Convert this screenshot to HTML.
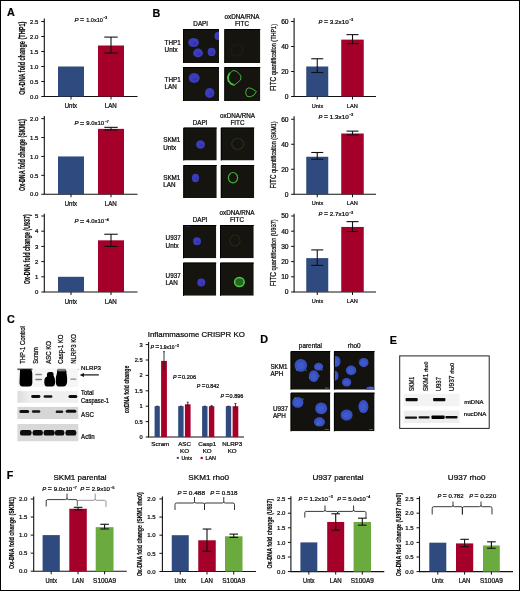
<!DOCTYPE html>
<html><head><meta charset="utf-8"><style>
html,body{margin:0;padding:0;background:#fff;}
svg{display:block;}
svg.root{will-change:transform;}
text{font-family:"Liberation Sans", sans-serif;stroke:#0c0c0c;stroke-width:0.24px;}
text[font-weight="bold"]{stroke-width:0.2px;}
</style></head><body>
<svg class="root" width="520" height="591" viewBox="0 0 520 591">
<defs>
<filter id="blur1" x="-50%" y="-50%" width="200%" height="200%"><feGaussianBlur stdDeviation="0.6"/></filter>
<filter id="blur05" x="-50%" y="-50%" width="200%" height="200%"><feGaussianBlur stdDeviation="0.35"/></filter>
<filter id="blur2" x="-50%" y="-50%" width="200%" height="200%"><feGaussianBlur stdDeviation="1.2"/></filter>
</defs>
<rect x="0" y="0" width="520" height="591" fill="#fff"/>
<text x="7" y="15.8" font-size="10.8" text-anchor="start" fill="#000" font-weight="bold">A</text>
<line x1="44.3" y1="18.4" x2="44.3" y2="96.5" stroke="#111" stroke-width="1.1"/>
<line x1="43.8" y1="96.5" x2="137.5" y2="96.5" stroke="#111" stroke-width="1.1"/>
<line x1="41.3" y1="96.5" x2="44.3" y2="96.5" stroke="#111" stroke-width="1"/>
<text x="38.4" y="98.66" font-size="6.0" text-anchor="end" fill="#0c0c0c">0.0</text>
<line x1="41.3" y1="81.5" x2="44.3" y2="81.5" stroke="#111" stroke-width="1"/>
<text x="38.4" y="83.66" font-size="6.0" text-anchor="end" fill="#0c0c0c">0.5</text>
<line x1="41.3" y1="66.5" x2="44.3" y2="66.5" stroke="#111" stroke-width="1"/>
<text x="38.4" y="68.66" font-size="6.0" text-anchor="end" fill="#0c0c0c">1.0</text>
<line x1="41.3" y1="51.5" x2="44.3" y2="51.5" stroke="#111" stroke-width="1"/>
<text x="38.4" y="53.66" font-size="6.0" text-anchor="end" fill="#0c0c0c">1.5</text>
<line x1="41.3" y1="36.5" x2="44.3" y2="36.5" stroke="#111" stroke-width="1"/>
<text x="38.4" y="38.66" font-size="6.0" text-anchor="end" fill="#0c0c0c">2.0</text>
<line x1="41.3" y1="21.5" x2="44.3" y2="21.5" stroke="#111" stroke-width="1"/>
<text x="38.4" y="23.66" font-size="6.0" text-anchor="end" fill="#0c0c0c">2.5</text>
<rect x="58" y="66.5" width="26" height="30.0" fill="#2E4A7E"/>
<line x1="71.0" y1="96.5" x2="71.0" y2="99.5" stroke="#111" stroke-width="1"/>
<rect x="98" y="45.5" width="26" height="51.0" fill="#A5002A"/>
<line x1="111.0" y1="37.1" x2="111.0" y2="53.0" stroke="#111" stroke-width="1.1"/>
<line x1="104.3" y1="37.1" x2="117.7" y2="37.1" stroke="#111" stroke-width="1.1"/>
<line x1="104.3" y1="53.0" x2="117.7" y2="53.0" stroke="#111" stroke-width="1.1"/>
<line x1="111.0" y1="96.5" x2="111.0" y2="99.5" stroke="#111" stroke-width="1"/>
<text x="70.95" y="107.8" font-size="6.4" text-anchor="middle" fill="#0c0c0c" textLength="12.3" lengthAdjust="spacingAndGlyphs">Untx</text>
<text x="110.8" y="107.8" font-size="6.4" text-anchor="middle" fill="#0c0c0c" textLength="12" lengthAdjust="spacingAndGlyphs">LAN</text>
<text x="24.8" y="58.2" font-size="8.3" text-anchor="middle" fill="#0c0c0c" font-weight="bold" textLength="73" lengthAdjust="spacingAndGlyphs" transform="rotate(-90 24.8 58.2)">Ox-DNA fold change (THP1)</text>
<text x="74.4" y="21.7" font-size="6.1" font-style="italic" fill="#0c0c0c">P</text>
<text x="80.09" y="21.80" font-size="7.32" fill="#0c0c0c" textLength="4.17" lengthAdjust="spacingAndGlyphs">=</text>
<text x="86.19" y="21.7" font-size="6.1" fill="#0c0c0c" textLength="16.61" lengthAdjust="spacingAndGlyphs">1.0x10</text>
<text x="103.3" y="19.4" font-size="3.5" fill="#0c0c0c">&#8722;3</text>
<line x1="44.3" y1="116" x2="44.3" y2="194.25" stroke="#111" stroke-width="1.1"/>
<line x1="43.8" y1="194.25" x2="137.5" y2="194.25" stroke="#111" stroke-width="1.1"/>
<line x1="41.3" y1="194.25" x2="44.3" y2="194.25" stroke="#111" stroke-width="1"/>
<text x="38.4" y="196.41" font-size="6.0" text-anchor="end" fill="#0c0c0c">0.0</text>
<line x1="41.3" y1="175.35" x2="44.3" y2="175.35" stroke="#111" stroke-width="1"/>
<text x="38.4" y="177.51" font-size="6.0" text-anchor="end" fill="#0c0c0c">0.5</text>
<line x1="41.3" y1="156.45" x2="44.3" y2="156.45" stroke="#111" stroke-width="1"/>
<text x="38.4" y="158.60999999999999" font-size="6.0" text-anchor="end" fill="#0c0c0c">1.0</text>
<line x1="41.3" y1="137.55" x2="44.3" y2="137.55" stroke="#111" stroke-width="1"/>
<text x="38.4" y="139.71" font-size="6.0" text-anchor="end" fill="#0c0c0c">1.5</text>
<line x1="41.3" y1="118.65" x2="44.3" y2="118.65" stroke="#111" stroke-width="1"/>
<text x="38.4" y="120.81" font-size="6.0" text-anchor="end" fill="#0c0c0c">2.0</text>
<rect x="58" y="156.45" width="26" height="37.80000000000001" fill="#2E4A7E"/>
<line x1="71.0" y1="194.25" x2="71.0" y2="197.25" stroke="#111" stroke-width="1"/>
<rect x="98" y="128.856" width="26" height="65.394" fill="#A5002A"/>
<line x1="111.0" y1="127.34400000000001" x2="111.0" y2="129.99" stroke="#111" stroke-width="1.1"/>
<line x1="104.3" y1="127.34400000000001" x2="117.7" y2="127.34400000000001" stroke="#111" stroke-width="1.1"/>
<line x1="104.3" y1="129.99" x2="117.7" y2="129.99" stroke="#111" stroke-width="1.1"/>
<line x1="111.0" y1="194.25" x2="111.0" y2="197.25" stroke="#111" stroke-width="1"/>
<text x="70.95" y="205.6" font-size="6.4" text-anchor="middle" fill="#0c0c0c" textLength="12.3" lengthAdjust="spacingAndGlyphs">Untx</text>
<text x="110.8" y="205.6" font-size="6.4" text-anchor="middle" fill="#0c0c0c" textLength="12" lengthAdjust="spacingAndGlyphs">LAN</text>
<text x="24.8" y="155" font-size="8.3" text-anchor="middle" fill="#0c0c0c" font-weight="bold" textLength="72" lengthAdjust="spacingAndGlyphs" transform="rotate(-90 24.8 155)">Ox-DNA fold change (SKM1)</text>
<text x="74.4" y="125.4" font-size="6.1" font-style="italic" fill="#0c0c0c">P</text>
<text x="80.09" y="125.50" font-size="7.32" fill="#0c0c0c" textLength="4.17" lengthAdjust="spacingAndGlyphs">=</text>
<text x="86.19" y="125.4" font-size="6.1" fill="#0c0c0c" textLength="18.01" lengthAdjust="spacingAndGlyphs">9.0x10</text>
<text x="104.7" y="123.10000000000001" font-size="3.5" fill="#0c0c0c">&#8722;7</text>
<line x1="44.3" y1="213.75" x2="44.3" y2="292" stroke="#111" stroke-width="1.1"/>
<line x1="43.8" y1="292" x2="137.5" y2="292" stroke="#111" stroke-width="1.1"/>
<line x1="41.3" y1="292.0" x2="44.3" y2="292.0" stroke="#111" stroke-width="1"/>
<text x="38.4" y="294.16" font-size="6.0" text-anchor="end" fill="#0c0c0c">0</text>
<line x1="41.3" y1="276.8" x2="44.3" y2="276.8" stroke="#111" stroke-width="1"/>
<text x="38.4" y="278.96000000000004" font-size="6.0" text-anchor="end" fill="#0c0c0c">1</text>
<line x1="41.3" y1="261.6" x2="44.3" y2="261.6" stroke="#111" stroke-width="1"/>
<text x="38.4" y="263.76000000000005" font-size="6.0" text-anchor="end" fill="#0c0c0c">2</text>
<line x1="41.3" y1="246.4" x2="44.3" y2="246.4" stroke="#111" stroke-width="1"/>
<text x="38.4" y="248.56" font-size="6.0" text-anchor="end" fill="#0c0c0c">3</text>
<line x1="41.3" y1="231.2" x2="44.3" y2="231.2" stroke="#111" stroke-width="1"/>
<text x="38.4" y="233.35999999999999" font-size="6.0" text-anchor="end" fill="#0c0c0c">4</text>
<line x1="41.3" y1="216.0" x2="44.3" y2="216.0" stroke="#111" stroke-width="1"/>
<text x="38.4" y="218.16" font-size="6.0" text-anchor="end" fill="#0c0c0c">5</text>
<rect x="58" y="276.8" width="26" height="15.199999999999989" fill="#2E4A7E"/>
<line x1="71.0" y1="292" x2="71.0" y2="295" stroke="#111" stroke-width="1"/>
<rect x="98" y="240.32" width="26" height="51.68000000000001" fill="#A5002A"/>
<line x1="111.0" y1="234.24" x2="111.0" y2="246.4" stroke="#111" stroke-width="1.1"/>
<line x1="104.3" y1="234.24" x2="117.7" y2="234.24" stroke="#111" stroke-width="1.1"/>
<line x1="104.3" y1="246.4" x2="117.7" y2="246.4" stroke="#111" stroke-width="1.1"/>
<line x1="111.0" y1="292" x2="111.0" y2="295" stroke="#111" stroke-width="1"/>
<text x="70.95" y="303.6" font-size="6.4" text-anchor="middle" fill="#0c0c0c" textLength="12.3" lengthAdjust="spacingAndGlyphs">Untx</text>
<text x="110.8" y="303.6" font-size="6.4" text-anchor="middle" fill="#0c0c0c" textLength="12" lengthAdjust="spacingAndGlyphs">LAN</text>
<text x="30.2" y="249.2" font-size="8.3" text-anchor="middle" fill="#0c0c0c" font-weight="bold" textLength="70" lengthAdjust="spacingAndGlyphs" transform="rotate(-90 30.2 249.2)">Ox-DNA fold change (U937)</text>
<text x="74.4" y="223.4" font-size="6.1" font-style="italic" fill="#0c0c0c">P</text>
<text x="80.09" y="223.50" font-size="7.32" fill="#0c0c0c" textLength="4.17" lengthAdjust="spacingAndGlyphs">=</text>
<text x="86.19" y="223.4" font-size="6.1" fill="#0c0c0c" textLength="18.01" lengthAdjust="spacingAndGlyphs">4.0x10</text>
<text x="104.7" y="221.1" font-size="3.5" fill="#0c0c0c">&#8722;4</text>
<text x="152.5" y="16.5" font-size="10.8" text-anchor="start" fill="#000" font-weight="bold">B</text>
<text x="200.7" y="26.2" font-size="6.3" text-anchor="middle" fill="#0c0c0c">DAPI</text>
<text x="242" y="18.8" font-size="6.3" text-anchor="middle" fill="#0c0c0c">oxDNA/RNA</text>
<text x="242" y="26.2" font-size="6.3" text-anchor="middle" fill="#0c0c0c">FITC</text>
<text x="164.6" y="45" font-size="6.3" text-anchor="start" fill="#0c0c0c">THP1</text>
<text x="164.6" y="51.8" font-size="6.3" text-anchor="start" fill="#0c0c0c">Untx</text>
<text x="164.6" y="82.2" font-size="6.3" text-anchor="start" fill="#0c0c0c">THP1</text>
<text x="164.6" y="89.3" font-size="6.3" text-anchor="start" fill="#0c0c0c">LAN</text>
<svg x="183" y="29" width="36" height="34" overflow="hidden">
<rect width="36" height="34" fill="#15140f"/>
<ellipse cx="10.599999999999994" cy="13.5" rx="5.4" ry="4.6" fill="#3a3abc" filter="url(#blur05)"/>
<ellipse cx="11.679999999999994" cy="14.65" rx="1.89" ry="1.38" fill="#2a2a80" opacity="0.4" filter="url(#blur1)"/>
<ellipse cx="15" cy="24" rx="5" ry="4.4" fill="#3a3abc" filter="url(#blur05)"/>
<ellipse cx="16.0" cy="25.1" rx="1.75" ry="1.32" fill="#2a2a80" opacity="0.4" filter="url(#blur1)"/>
<ellipse cx="28.599999999999994" cy="22.9" rx="4" ry="4.2" fill="#3a3abc" filter="url(#blur05)"/>
<ellipse cx="29.399999999999995" cy="23.95" rx="1.4" ry="1.26" fill="#2a2a80" opacity="0.4" filter="url(#blur1)"/>
<ellipse cx="35.30000000000001" cy="6.899999999999999" rx="3.8" ry="4.1" fill="#3a3abc" filter="url(#blur05)"/>
<ellipse cx="36.06000000000001" cy="7.924999999999999" rx="1.3299999999999998" ry="1.2299999999999998" fill="#2a2a80" opacity="0.4" filter="url(#blur1)"/>
</svg>
<path d="M183.5,63 L183.5,29.5 L219,29.5" fill="none" stroke="#000" stroke-width="1"/>
<svg x="224.3" y="29" width="36" height="34" overflow="hidden">
<rect width="36" height="34" fill="#15140f"/>
<ellipse cx="12.699999999999989" cy="21" rx="6" ry="6" fill="none" stroke="#3fb43a" stroke-width="1.2" opacity="0.07" filter="url(#blur05)"/>
</svg>
<path d="M224.8,63 L224.8,29.5 L260.3,29.5" fill="none" stroke="#000" stroke-width="1"/>
<svg x="183" y="67" width="36" height="34" overflow="hidden">
<rect width="36" height="34" fill="#15140f"/>
<ellipse cx="11.199999999999989" cy="11" rx="5.5" ry="5" fill="#3a3abc" filter="url(#blur05)"/>
<ellipse cx="12.299999999999988" cy="12.25" rx="1.9249999999999998" ry="1.5" fill="#2a2a80" opacity="0.4" filter="url(#blur1)"/>
<ellipse cx="26.69999999999999" cy="26" rx="4.8" ry="5" fill="#3a3abc" filter="url(#blur05)"/>
<ellipse cx="27.65999999999999" cy="27.25" rx="1.68" ry="1.5" fill="#2a2a80" opacity="0.4" filter="url(#blur1)"/>
</svg>
<path d="M183.5,101 L183.5,67.5 L219,67.5" fill="none" stroke="#000" stroke-width="1"/>
<svg x="224.3" y="67" width="36" height="34" overflow="hidden">
<rect width="36" height="34" fill="#15140f"/>
<path d="M4.70,7.00 L8.70,3.50 L11.70,4.00 L14.70,6.50 L16.70,9.00 L16.20,13.00 L12.70,16.00 L10.20,18.00 L6.70,17.00 L4.20,14.00 L3.50,10.00 Z" fill="none" stroke="#42b838" stroke-width="0.95" stroke-linejoin="round" filter="url(#blur05)"/>
<path d="M22.20,22.00 L24.70,20.80 L27.70,21.80 L32.10,24.50 L29.70,28.00 L26.20,29.80 L22.70,29.30 L21.30,26.00 Z" fill="none" stroke="#46bc3a" stroke-width="0.95" stroke-linejoin="round" filter="url(#blur05)"/>
<path d="M5.20,6.50 L3.70,10.00 L4.30,14.00 L6.70,16.80 L9.20,17.80" fill="none" stroke="#4cc83e" stroke-width="1.7" stroke-linejoin="round" stroke-linecap="round" filter="url(#blur05)"/>
</svg>
<path d="M224.8,101 L224.8,67.5 L260.3,67.5" fill="none" stroke="#000" stroke-width="1"/>
<text x="200" y="124.5" font-size="6.3" text-anchor="middle" fill="#0c0c0c">DAPI</text>
<text x="237.5" y="117.5" font-size="6.3" text-anchor="middle" fill="#0c0c0c">oxDNA/RNA</text>
<text x="237.5" y="124.5" font-size="6.3" text-anchor="middle" fill="#0c0c0c">FITC</text>
<text x="163.2" y="142.3" font-size="6.3" text-anchor="start" fill="#0c0c0c">SKM1</text>
<text x="163.2" y="149.8" font-size="6.3" text-anchor="start" fill="#0c0c0c">Untx</text>
<text x="163.2" y="180" font-size="6.3" text-anchor="start" fill="#0c0c0c">SKM1</text>
<text x="163.2" y="187.4" font-size="6.3" text-anchor="start" fill="#0c0c0c">LAN</text>
<svg x="183.25" y="127.5" width="33.5" height="33" overflow="hidden">
<rect width="33.5" height="33" fill="#15140f"/>
<ellipse cx="17.25" cy="17.0" rx="4.5" ry="4.2" fill="#3a3abc" filter="url(#blur05)"/>
<ellipse cx="18.15" cy="18.05" rx="1.575" ry="1.26" fill="#2a2a80" opacity="0.4" filter="url(#blur1)"/>
</svg>
<path d="M183.75,160.5 L183.75,128.0 L216.75,128.0" fill="none" stroke="#000" stroke-width="1"/>
<svg x="220.75" y="127.5" width="33.5" height="33" overflow="hidden">
<rect width="33.5" height="33" fill="#15140f"/>
<ellipse cx="16.94999999999999" cy="16.5" rx="6" ry="5.5" fill="none" stroke="#3fb43a" stroke-width="1.2" opacity="0.22" filter="url(#blur05)"/>
</svg>
<path d="M221.25,160.5 L221.25,128.0 L254.25,128.0" fill="none" stroke="#000" stroke-width="1"/>
<svg x="183.25" y="165" width="33.5" height="33" overflow="hidden">
<rect width="33.5" height="33" fill="#15140f"/>
<ellipse cx="12.25" cy="13" rx="3.6" ry="4.2" fill="#3a3abc" filter="url(#blur05)"/>
<ellipse cx="12.97" cy="14.05" rx="1.26" ry="1.26" fill="#2a2a80" opacity="0.4" filter="url(#blur1)"/>
</svg>
<path d="M183.75,198 L183.75,165.5 L216.75,165.5" fill="none" stroke="#000" stroke-width="1"/>
<svg x="220.75" y="165" width="33.5" height="33" overflow="hidden">
<rect width="33.5" height="33" fill="#15140f"/>
<ellipse cx="12.25" cy="12.699999999999989" rx="4.6" ry="5.2" fill="none" stroke="#3fb43a" stroke-width="1.2" opacity="1" filter="url(#blur05)"/>
</svg>
<path d="M221.25,198 L221.25,165.5 L254.25,165.5" fill="none" stroke="#000" stroke-width="1"/>
<text x="200" y="222.4" font-size="6.3" text-anchor="middle" fill="#0c0c0c">DAPI</text>
<text x="237" y="215.1" font-size="6.3" text-anchor="middle" fill="#0c0c0c">oxDNA/RNA</text>
<text x="237" y="222.4" font-size="6.3" text-anchor="middle" fill="#0c0c0c">FITC</text>
<text x="165.6" y="240.4" font-size="6.3" text-anchor="start" fill="#0c0c0c">U937</text>
<text x="165.6" y="247.5" font-size="6.3" text-anchor="start" fill="#0c0c0c">Untx</text>
<text x="165.6" y="277.5" font-size="6.3" text-anchor="start" fill="#0c0c0c">U937</text>
<text x="165.6" y="284.8" font-size="6.3" text-anchor="start" fill="#0c0c0c">LAN</text>
<svg x="183" y="225" width="33.25" height="33.25" overflow="hidden">
<rect width="33.25" height="33.25" fill="#15140f"/>
<ellipse cx="14" cy="16.25" rx="4" ry="4" fill="#3a3abc" filter="url(#blur05)"/>
<ellipse cx="14.8" cy="17.25" rx="1.4" ry="1.2" fill="#2a2a80" opacity="0.4" filter="url(#blur1)"/>
<ellipse cx="5" cy="-0.5" rx="3.5" ry="2" fill="#3a3abc" filter="url(#blur05)"/>
<ellipse cx="5.7" cy="0.0" rx="1.2249999999999999" ry="0.6" fill="#2a2a80" opacity="0.4" filter="url(#blur1)"/>
</svg>
<path d="M183.5,258.25 L183.5,225.5 L216.25,225.5" fill="none" stroke="#000" stroke-width="1"/>
<svg x="220" y="225" width="33.75" height="33.25" overflow="hidden">
<rect width="33.75" height="33.25" fill="#15140f"/>
<ellipse cx="15" cy="15.5" rx="5" ry="5.5" fill="none" stroke="#3fb43a" stroke-width="1.2" opacity="0.15" filter="url(#blur05)"/>
</svg>
<path d="M220.5,258.25 L220.5,225.5 L253.75,225.5" fill="none" stroke="#000" stroke-width="1"/>
<svg x="183" y="262.5" width="33.25" height="33.25" overflow="hidden">
<rect width="33.25" height="33.25" fill="#15140f"/>
<ellipse cx="18.25" cy="20.0" rx="4" ry="4" fill="#3a3abc" filter="url(#blur05)"/>
<ellipse cx="19.05" cy="21.0" rx="1.4" ry="1.2" fill="#2a2a80" opacity="0.4" filter="url(#blur1)"/>
</svg>
<path d="M183.5,295.75 L183.5,263.0 L216.25,263.0" fill="none" stroke="#000" stroke-width="1"/>
<svg x="220" y="262.5" width="33.75" height="33.25" overflow="hidden">
<rect width="33.75" height="33.25" fill="#15140f"/>
<ellipse cx="19.400000000000006" cy="19.399999999999977" rx="4.8" ry="4.5" fill="#2c6428" stroke="#4ccc3e" stroke-width="1.5" filter="url(#blur05)"/>
</svg>
<path d="M220.5,295.75 L220.5,263.0 L253.75,263.0" fill="none" stroke="#000" stroke-width="1"/>
<line x1="294.1" y1="18" x2="294.1" y2="96.5" stroke="#111" stroke-width="1.1"/>
<line x1="293.6" y1="96.5" x2="376" y2="96.5" stroke="#111" stroke-width="1.1"/>
<line x1="291.1" y1="96.5" x2="294.1" y2="96.5" stroke="#111" stroke-width="1"/>
<text x="288.6" y="98.912" font-size="6.7" text-anchor="end" fill="#0c0c0c">0</text>
<line x1="291.1" y1="71.5" x2="294.1" y2="71.5" stroke="#111" stroke-width="1"/>
<text x="288.6" y="73.912" font-size="6.7" text-anchor="end" fill="#0c0c0c">20</text>
<line x1="291.1" y1="46.5" x2="294.1" y2="46.5" stroke="#111" stroke-width="1"/>
<text x="288.6" y="48.912" font-size="6.7" text-anchor="end" fill="#0c0c0c">40</text>
<line x1="291.1" y1="21.5" x2="294.1" y2="21.5" stroke="#111" stroke-width="1"/>
<text x="288.6" y="23.912" font-size="6.7" text-anchor="end" fill="#0c0c0c">60</text>
<rect x="306.25" y="66.5" width="22.0" height="30.0" fill="#2E4A7E"/>
<line x1="317.25" y1="58.75" x2="317.25" y2="72.5" stroke="#111" stroke-width="1.1"/>
<line x1="311.25" y1="58.75" x2="323.25" y2="58.75" stroke="#111" stroke-width="1.1"/>
<line x1="311.25" y1="72.5" x2="323.25" y2="72.5" stroke="#111" stroke-width="1.1"/>
<line x1="317.25" y1="96.5" x2="317.25" y2="99.5" stroke="#111" stroke-width="1"/>
<rect x="341.25" y="39.625" width="22.5" height="56.875" fill="#A5002A"/>
<line x1="352.5" y1="34.625" x2="352.5" y2="43.625" stroke="#111" stroke-width="1.1"/>
<line x1="346.5" y1="34.625" x2="358.5" y2="34.625" stroke="#111" stroke-width="1.1"/>
<line x1="346.5" y1="43.625" x2="358.5" y2="43.625" stroke="#111" stroke-width="1.1"/>
<line x1="352.5" y1="96.5" x2="352.5" y2="99.5" stroke="#111" stroke-width="1"/>
<text x="317.45" y="107.8" font-size="6.1" text-anchor="middle" fill="#0c0c0c" textLength="11.5" lengthAdjust="spacingAndGlyphs">Untx</text>
<text x="352.3" y="107.8" font-size="6.1" text-anchor="middle" fill="#0c0c0c" textLength="11" lengthAdjust="spacingAndGlyphs">LAN</text>
<text x="276.2" y="57.5" font-size="7.4" text-anchor="middle" fill="#0c0c0c" textLength="67" lengthAdjust="spacingAndGlyphs" transform="rotate(-90 276.2 57.5)"><tspan font-size="8.6">FITC</tspan> quantification (THP1)</text>
<text x="318.6" y="23.5" font-size="5.8" font-style="italic" fill="#0c0c0c">P</text>
<text x="324.01" y="23.60" font-size="6.96" fill="#0c0c0c" textLength="3.96" lengthAdjust="spacingAndGlyphs">=</text>
<text x="329.81" y="23.5" font-size="5.8" fill="#0c0c0c" textLength="18.99" lengthAdjust="spacingAndGlyphs">3.2x10</text>
<text x="349.3" y="21.2" font-size="3.5" fill="#0c0c0c">&#8722;3</text>
<line x1="294.1" y1="116.25" x2="294.1" y2="194.25" stroke="#111" stroke-width="1.1"/>
<line x1="293.6" y1="194.25" x2="376" y2="194.25" stroke="#111" stroke-width="1.1"/>
<line x1="291.1" y1="194.25" x2="294.1" y2="194.25" stroke="#111" stroke-width="1"/>
<text x="288.6" y="196.662" font-size="6.7" text-anchor="end" fill="#0c0c0c">0</text>
<line x1="291.1" y1="169.25" x2="294.1" y2="169.25" stroke="#111" stroke-width="1"/>
<text x="288.6" y="171.662" font-size="6.7" text-anchor="end" fill="#0c0c0c">20</text>
<line x1="291.1" y1="144.25" x2="294.1" y2="144.25" stroke="#111" stroke-width="1"/>
<text x="288.6" y="146.662" font-size="6.7" text-anchor="end" fill="#0c0c0c">40</text>
<line x1="291.1" y1="119.25" x2="294.1" y2="119.25" stroke="#111" stroke-width="1"/>
<text x="288.6" y="121.662" font-size="6.7" text-anchor="end" fill="#0c0c0c">60</text>
<rect x="306.25" y="156.75" width="22.0" height="37.5" fill="#2E4A7E"/>
<line x1="317.25" y1="152.5" x2="317.25" y2="159.25" stroke="#111" stroke-width="1.1"/>
<line x1="311.25" y1="152.5" x2="323.25" y2="152.5" stroke="#111" stroke-width="1.1"/>
<line x1="311.25" y1="159.25" x2="323.25" y2="159.25" stroke="#111" stroke-width="1.1"/>
<line x1="317.25" y1="194.25" x2="317.25" y2="197.25" stroke="#111" stroke-width="1"/>
<rect x="341.25" y="133.5" width="22.5" height="60.75" fill="#A5002A"/>
<line x1="352.5" y1="131.125" x2="352.5" y2="134.875" stroke="#111" stroke-width="1.1"/>
<line x1="346.5" y1="131.125" x2="358.5" y2="131.125" stroke="#111" stroke-width="1.1"/>
<line x1="346.5" y1="134.875" x2="358.5" y2="134.875" stroke="#111" stroke-width="1.1"/>
<line x1="352.5" y1="194.25" x2="352.5" y2="197.25" stroke="#111" stroke-width="1"/>
<text x="317.45" y="205.4" font-size="6.1" text-anchor="middle" fill="#0c0c0c" textLength="11.5" lengthAdjust="spacingAndGlyphs">Untx</text>
<text x="352.3" y="205.4" font-size="6.1" text-anchor="middle" fill="#0c0c0c" textLength="11" lengthAdjust="spacingAndGlyphs">LAN</text>
<text x="276.2" y="155" font-size="7.4" text-anchor="middle" fill="#0c0c0c" textLength="67" lengthAdjust="spacingAndGlyphs" transform="rotate(-90 276.2 155)"><tspan font-size="8.6">FITC</tspan> quantification (SKM1)</text>
<text x="318.6" y="118.5" font-size="5.8" font-style="italic" fill="#0c0c0c">P</text>
<text x="324.01" y="118.60" font-size="6.96" fill="#0c0c0c" textLength="3.96" lengthAdjust="spacingAndGlyphs">=</text>
<text x="329.81" y="118.5" font-size="5.8" fill="#0c0c0c" textLength="18.99" lengthAdjust="spacingAndGlyphs">1.3x10</text>
<text x="349.3" y="116.2" font-size="3.5" fill="#0c0c0c">&#8722;3</text>
<line x1="294.1" y1="213.75" x2="294.1" y2="292" stroke="#111" stroke-width="1.1"/>
<line x1="293.6" y1="292" x2="376" y2="292" stroke="#111" stroke-width="1.1"/>
<line x1="291.1" y1="292.0" x2="294.1" y2="292.0" stroke="#111" stroke-width="1"/>
<text x="288.6" y="294.412" font-size="6.7" text-anchor="end" fill="#0c0c0c">0</text>
<line x1="291.1" y1="276.8" x2="294.1" y2="276.8" stroke="#111" stroke-width="1"/>
<text x="288.6" y="279.212" font-size="6.7" text-anchor="end" fill="#0c0c0c">10</text>
<line x1="291.1" y1="261.6" x2="294.1" y2="261.6" stroke="#111" stroke-width="1"/>
<text x="288.6" y="264.012" font-size="6.7" text-anchor="end" fill="#0c0c0c">20</text>
<line x1="291.1" y1="246.4" x2="294.1" y2="246.4" stroke="#111" stroke-width="1"/>
<text x="288.6" y="248.812" font-size="6.7" text-anchor="end" fill="#0c0c0c">30</text>
<line x1="291.1" y1="231.2" x2="294.1" y2="231.2" stroke="#111" stroke-width="1"/>
<text x="288.6" y="233.612" font-size="6.7" text-anchor="end" fill="#0c0c0c">40</text>
<line x1="291.1" y1="216.0" x2="294.1" y2="216.0" stroke="#111" stroke-width="1"/>
<text x="288.6" y="218.412" font-size="6.7" text-anchor="end" fill="#0c0c0c">50</text>
<rect x="306.25" y="258.104" width="22.0" height="33.896000000000015" fill="#2E4A7E"/>
<line x1="317.25" y1="249.89600000000002" x2="317.25" y2="265.4" stroke="#111" stroke-width="1.1"/>
<line x1="311.25" y1="249.89600000000002" x2="323.25" y2="249.89600000000002" stroke="#111" stroke-width="1.1"/>
<line x1="311.25" y1="265.4" x2="323.25" y2="265.4" stroke="#111" stroke-width="1.1"/>
<line x1="317.25" y1="292" x2="317.25" y2="295" stroke="#111" stroke-width="1"/>
<rect x="341.25" y="226.94400000000002" width="22.5" height="65.05599999999998" fill="#A5002A"/>
<line x1="352.5" y1="221.62400000000002" x2="352.5" y2="231.50400000000002" stroke="#111" stroke-width="1.1"/>
<line x1="346.5" y1="221.62400000000002" x2="358.5" y2="221.62400000000002" stroke="#111" stroke-width="1.1"/>
<line x1="346.5" y1="231.50400000000002" x2="358.5" y2="231.50400000000002" stroke="#111" stroke-width="1.1"/>
<line x1="352.5" y1="292" x2="352.5" y2="295" stroke="#111" stroke-width="1"/>
<text x="317.45" y="303.2" font-size="6.1" text-anchor="middle" fill="#0c0c0c" textLength="11.5" lengthAdjust="spacingAndGlyphs">Untx</text>
<text x="352.3" y="303.2" font-size="6.1" text-anchor="middle" fill="#0c0c0c" textLength="11" lengthAdjust="spacingAndGlyphs">LAN</text>
<text x="276.2" y="252.8" font-size="7.4" text-anchor="middle" fill="#0c0c0c" textLength="67" lengthAdjust="spacingAndGlyphs" transform="rotate(-90 276.2 252.8)"><tspan font-size="8.6">FITC</tspan> quantification (U937)</text>
<text x="318.6" y="216.1" font-size="5.8" font-style="italic" fill="#0c0c0c">P</text>
<text x="324.01" y="216.20" font-size="6.96" fill="#0c0c0c" textLength="3.96" lengthAdjust="spacingAndGlyphs">=</text>
<text x="329.81" y="216.1" font-size="5.8" fill="#0c0c0c" textLength="18.99" lengthAdjust="spacingAndGlyphs">2.7x10</text>
<text x="349.3" y="213.79999999999998" font-size="3.5" fill="#0c0c0c">&#8722;3</text>
<text x="7" y="323" font-size="10.8" text-anchor="start" fill="#000" font-weight="bold">C</text>
<text x="25.5" y="363.8" font-size="6.6" text-anchor="start" fill="#0c0c0c" textLength="37.7" lengthAdjust="spacingAndGlyphs" transform="rotate(-90 25.5 363.8)">THP-1 Control</text>
<text x="37.9" y="363.8" font-size="6.6" text-anchor="start" fill="#0c0c0c" textLength="16.7" lengthAdjust="spacingAndGlyphs" transform="rotate(-90 37.9 363.8)">Scram</text>
<text x="50.7" y="363.8" font-size="6.6" text-anchor="start" fill="#0c0c0c" textLength="22.8" lengthAdjust="spacingAndGlyphs" transform="rotate(-90 50.7 363.8)">ASC KO</text>
<text x="63.2" y="363.8" font-size="6.6" text-anchor="start" fill="#0c0c0c" textLength="29.2" lengthAdjust="spacingAndGlyphs" transform="rotate(-90 63.2 363.8)">Casp-1 KO</text>
<text x="76.1" y="363.8" font-size="6.6" text-anchor="start" fill="#0c0c0c" textLength="29.6" lengthAdjust="spacingAndGlyphs" transform="rotate(-90 76.1 363.8)">NLRP3 KO</text>
<rect x="17.4" y="368.5" width="60.6" height="18.4" fill="#f6f6f6"/>
<rect x="17.4" y="368.5" width="15" height="1.6" fill="#555"/>
<path d="M20,371 Q19.5,369.3 22,369.3 L30,369.3 Q32.3,370 32.3,374 L32.3,383 Q32,386.5 29,386.5 L22,386.5 Q19.3,386 19.5,382 Z" fill="#000" filter="url(#blur05)"/>
<path d="M47,374 Q47,372 49.5,372 L52,372 Q54,372.5 53.5,375.5 Q55.3,378 55.2,382 Q55,386.5 52,386.5 L46.5,386.5 Q44,386 44.3,381 Q44.3,377.5 47,376.5 Z" fill="#000" filter="url(#blur05)"/>
<path d="M57,371 Q57,369 60,369 L64,369 Q66.8,369.5 66.5,373 Q67.4,378 67.1,382 Q66.6,386.5 63,386.5 L58.5,386.5 Q55.6,386 55.8,381 Q55.8,376 57,373 Z" fill="#000" filter="url(#blur05)"/>
<rect x="57.5" y="368.8" width="8" height="2.5" fill="#777" filter="url(#blur05)"/>
<rect x="35.2" y="373.65" width="7.0" height="1.5" rx="0.75" fill="#8a8a8a" filter="url(#blur05)"/>
<rect x="35.2" y="378.7" width="7.0" height="1.6" rx="0.8" fill="#7a7a7a" filter="url(#blur05)"/>
<rect x="70.3" y="378.55" width="6.0" height="1.3" rx="0.65" fill="#888" filter="url(#blur05)"/>
<defs><linearGradient id="tcg" x1="0" x2="1" y1="0" y2="0"><stop offset="0" stop-color="#dcdcdc"/><stop offset="0.2" stop-color="#eeeeee"/><stop offset="1" stop-color="#f0f0f0"/></linearGradient></defs>
<rect x="17.4" y="391.1" width="60.9" height="11.7" fill="url(#tcg)"/>
<rect x="31.2" y="395.1" width="9.2" height="2.8" rx="1.4" fill="#0e0e0e" filter="url(#blur05)"/>
<rect x="43.6" y="395.25" width="8.799999999999997" height="2.5" rx="1.25" fill="#151515" filter="url(#blur05)"/>
<rect x="68.5" y="394.9" width="8.799999999999997" height="3.0" rx="1.5" fill="#0a0a0a" filter="url(#blur05)"/>
<rect x="17.4" y="406.9" width="60.9" height="12.1" fill="#d6d6d6"/>
<rect x="19.4" y="410.1" width="9.8" height="3.0" rx="1.5" fill="#111" filter="url(#blur05)"/>
<rect x="31.9" y="410.2" width="8.399999999999999" height="2.6" rx="1.3" fill="#151515" filter="url(#blur05)"/>
<rect x="55.7" y="410.5" width="7.5" height="2.4" rx="1.2" fill="#1a1a1a" filter="url(#blur05)"/>
<rect x="65.8" y="409.8" width="10.5" height="3.0" rx="1.5" fill="#0d0d0d" filter="url(#blur05)"/>
<rect x="17.4" y="424" width="60.9" height="17.2" fill="#d8d8d8"/>
<rect x="20" y="430.0" width="11.5" height="5.6" rx="2.2" fill="#0a0a0a" filter="url(#blur05)"/>
<rect x="32.6" y="430.0" width="10.199999999999996" height="5.6" rx="2.2" fill="#0a0a0a" filter="url(#blur05)"/>
<rect x="43.6" y="430.0" width="11.0" height="5.6" rx="2.2" fill="#0a0a0a" filter="url(#blur05)"/>
<rect x="54.9" y="430.0" width="9.399999999999999" height="5.6" rx="2.2" fill="#0a0a0a" filter="url(#blur05)"/>
<rect x="65.5" y="430.0" width="10.799999999999997" height="5.6" rx="2.2" fill="#0a0a0a" filter="url(#blur05)"/>
<text x="81.1" y="370.2" font-size="5.8" text-anchor="start" fill="#0c0c0c" textLength="19.8" lengthAdjust="spacingAndGlyphs">NLRP3</text>
<circle cx="78.3" cy="369.6" r="0.45" fill="#444"/>
<line x1="82" y1="374.9" x2="98.8" y2="374.9" stroke="#111" stroke-width="1.2"/>
<path d="M79.6,374.9 L84,372.9 L84,376.9 Z" fill="#111"/>
<text x="81.1" y="395.3" font-size="6.3" text-anchor="start" fill="#0c0c0c" textLength="12.5" lengthAdjust="spacingAndGlyphs">Total</text>
<text x="81.1" y="402.7" font-size="6.3" text-anchor="start" fill="#0c0c0c" textLength="28" lengthAdjust="spacingAndGlyphs">Caspase-1</text>
<text x="81.1" y="417" font-size="6.3" text-anchor="start" fill="#0c0c0c" textLength="12.8" lengthAdjust="spacingAndGlyphs">ASC</text>
<text x="81.1" y="439.3" font-size="6.3" text-anchor="start" fill="#0c0c0c" textLength="13.6" lengthAdjust="spacingAndGlyphs">Actin</text>
<line x1="148.6" y1="342" x2="148.6" y2="437" stroke="#111" stroke-width="1.1"/>
<line x1="148" y1="437" x2="244" y2="437" stroke="#111" stroke-width="1.1"/>
<line x1="145.7" y1="437.0" x2="148.6" y2="437.0" stroke="#111" stroke-width="1"/>
<text x="142.6" y="439.0" font-size="5.7" text-anchor="end" fill="#0c0c0c">0</text>
<line x1="145.7" y1="421.6" x2="148.6" y2="421.6" stroke="#111" stroke-width="1"/>
<text x="142.6" y="423.6" font-size="5.7" text-anchor="end" fill="#0c0c0c">0.5</text>
<line x1="145.7" y1="406.2" x2="148.6" y2="406.2" stroke="#111" stroke-width="1"/>
<text x="142.6" y="408.2" font-size="5.7" text-anchor="end" fill="#0c0c0c">1</text>
<line x1="145.7" y1="390.8" x2="148.6" y2="390.8" stroke="#111" stroke-width="1"/>
<text x="142.6" y="392.8" font-size="5.7" text-anchor="end" fill="#0c0c0c">1.5</text>
<line x1="145.7" y1="375.4" x2="148.6" y2="375.4" stroke="#111" stroke-width="1"/>
<text x="142.6" y="377.4" font-size="5.7" text-anchor="end" fill="#0c0c0c">2</text>
<line x1="145.7" y1="360.0" x2="148.6" y2="360.0" stroke="#111" stroke-width="1"/>
<text x="142.6" y="362.0" font-size="5.7" text-anchor="end" fill="#0c0c0c">2.5</text>
<line x1="145.7" y1="344.6" x2="148.6" y2="344.6" stroke="#111" stroke-width="1"/>
<text x="142.6" y="346.6" font-size="5.7" text-anchor="end" fill="#0c0c0c">3</text>
<text x="147.8" y="336.8" font-size="7.9" text-anchor="start" fill="#0c0c0c" textLength="97" lengthAdjust="spacingAndGlyphs">Inflammasome CRISPR KO</text>
<rect x="154.6" y="406.2" width="5.200000000000017" height="30.80000000000001" fill="#2E4A7E"/>
<line x1="156.1" y1="406.2" x2="158.3" y2="406.2" stroke="#111" stroke-width="0.8"/>
<rect x="161.1" y="360.924" width="5.800000000000011" height="76.07600000000002" fill="#A5002A"/>
<line x1="164.0" y1="351.68399999999997" x2="164.0" y2="369.548" stroke="#222" stroke-width="0.9"/>
<line x1="163.0" y1="351.68399999999997" x2="165.0" y2="351.68399999999997" stroke="#222" stroke-width="0.8"/>
<line x1="163.0" y1="369.548" x2="165.0" y2="369.548" stroke="#222" stroke-width="0.8"/>
<rect x="178.2" y="406.2" width="5.400000000000006" height="30.80000000000001" fill="#2E4A7E"/>
<line x1="179.7" y1="406.2" x2="182.1" y2="406.2" stroke="#111" stroke-width="0.8"/>
<rect x="184.9" y="404.352" width="5.699999999999989" height="32.648000000000025" fill="#A5002A"/>
<line x1="187.75" y1="402.196" x2="187.75" y2="405.276" stroke="#222" stroke-width="0.9"/>
<line x1="186.75" y1="402.196" x2="188.75" y2="402.196" stroke="#222" stroke-width="0.8"/>
<line x1="186.75" y1="405.276" x2="188.75" y2="405.276" stroke="#222" stroke-width="0.8"/>
<rect x="202.1" y="406.2" width="5.400000000000006" height="30.80000000000001" fill="#2E4A7E"/>
<line x1="203.6" y1="406.2" x2="206.0" y2="406.2" stroke="#111" stroke-width="0.8"/>
<rect x="208.9" y="406.2" width="5.400000000000006" height="30.80000000000001" fill="#A5002A"/>
<line x1="211.60000000000002" y1="405.584" x2="211.60000000000002" y2="406.508" stroke="#222" stroke-width="0.9"/>
<line x1="210.60000000000002" y1="405.584" x2="212.60000000000002" y2="405.584" stroke="#222" stroke-width="0.8"/>
<line x1="210.60000000000002" y1="406.508" x2="212.60000000000002" y2="406.508" stroke="#222" stroke-width="0.8"/>
<rect x="225.8" y="406.2" width="5.399999999999977" height="30.80000000000001" fill="#2E4A7E"/>
<line x1="227.3" y1="406.2" x2="229.7" y2="406.2" stroke="#111" stroke-width="0.8"/>
<rect x="232.6" y="406.2" width="5.700000000000017" height="30.80000000000001" fill="#A5002A"/>
<line x1="235.45" y1="403.428" x2="235.45" y2="408.048" stroke="#222" stroke-width="0.9"/>
<line x1="234.45" y1="403.428" x2="236.45" y2="403.428" stroke="#222" stroke-width="0.8"/>
<line x1="234.45" y1="408.048" x2="236.45" y2="408.048" stroke="#222" stroke-width="0.8"/>
<text x="129.4" y="389.4" font-size="7.2" text-anchor="middle" fill="#0c0c0c" font-weight="bold" textLength="47.5" lengthAdjust="spacingAndGlyphs" transform="rotate(-90 129.4 389.4)">oxDNA fold change</text>
<text x="150.6" y="349.1" font-size="5.3" font-style="italic" fill="#0c0c0c">P</text>
<text x="155.55" y="349.20" font-size="6.36" fill="#0c0c0c" textLength="3.62" lengthAdjust="spacingAndGlyphs">=</text>
<text x="159.70" y="349.1" font-size="5.3" fill="#0c0c0c" textLength="14.80" lengthAdjust="spacingAndGlyphs">1.9x10</text>
<text x="175.0" y="346.8" font-size="3.3" fill="#0c0c0c">&#8722;3</text>
<text x="172.9" y="378.6" font-size="5.3" font-style="italic" fill="#0c0c0c">P</text>
<text x="177.85" y="378.70" font-size="6.36" fill="#0c0c0c" textLength="3.62" lengthAdjust="spacingAndGlyphs">=</text>
<text x="182.00" y="378.6" font-size="5.3" fill="#0c0c0c" textLength="14.00" lengthAdjust="spacingAndGlyphs">0.206</text>
<text x="196.8" y="387.9" font-size="5.3" font-style="italic" fill="#0c0c0c">P</text>
<text x="201.75" y="388.00" font-size="6.36" fill="#0c0c0c" textLength="3.62" lengthAdjust="spacingAndGlyphs">=</text>
<text x="205.90" y="387.9" font-size="5.3" fill="#0c0c0c" textLength="13.40" lengthAdjust="spacingAndGlyphs">0.842</text>
<text x="220.5" y="398.1" font-size="5.3" font-style="italic" fill="#0c0c0c">P</text>
<text x="225.45" y="398.20" font-size="6.36" fill="#0c0c0c" textLength="3.62" lengthAdjust="spacingAndGlyphs">=</text>
<text x="229.60" y="398.1" font-size="5.3" fill="#0c0c0c" textLength="13.80" lengthAdjust="spacingAndGlyphs">0.896</text>
<text x="160.3" y="445.6" font-size="6.2" text-anchor="middle" fill="#0c0c0c">Scram</text>
<text x="184.5" y="445.6" font-size="6.2" text-anchor="middle" fill="#0c0c0c">ASC</text>
<text x="207.2" y="445.6" font-size="6.2" text-anchor="middle" fill="#0c0c0c">Casp1</text>
<text x="232.2" y="445.6" font-size="6.2" text-anchor="middle" fill="#0c0c0c">NLRP3</text>
<text x="184.5" y="452.6" font-size="6.2" text-anchor="middle" fill="#0c0c0c">KO</text>
<text x="207.2" y="452.6" font-size="6.2" text-anchor="middle" fill="#0c0c0c">KO</text>
<text x="232.2" y="452.6" font-size="6.2" text-anchor="middle" fill="#0c0c0c">KO</text>
<rect x="176.8" y="456.9" width="2" height="2" fill="#2E4A7E"/>
<text x="181.5" y="459.7" font-size="5.4" text-anchor="start" fill="#0c0c0c" textLength="10.5" lengthAdjust="spacingAndGlyphs">Untx</text>
<rect x="200.6" y="456.9" width="2.2" height="2.2" fill="#A5002A"/>
<text x="205.5" y="459.7" font-size="5.4" text-anchor="start" fill="#0c0c0c" textLength="10.5" lengthAdjust="spacingAndGlyphs">LAN</text>
<text x="260.2" y="343.4" font-size="10.8" text-anchor="start" fill="#000" font-weight="bold">D</text>
<text x="310.4" y="348" font-size="6.4" text-anchor="middle" fill="#0c0c0c">parental</text>
<text x="354.2" y="348" font-size="6.4" text-anchor="middle" fill="#0c0c0c">rho0</text>
<text x="270.4" y="368.6" font-size="6.3" text-anchor="start" fill="#0c0c0c">SKM1</text>
<text x="270.4" y="376.1" font-size="6.3" text-anchor="start" fill="#0c0c0c">APH</text>
<text x="272.9" y="410.6" font-size="6.3" text-anchor="start" fill="#0c0c0c">U937</text>
<text x="272.9" y="418.20000000000005" font-size="6.3" text-anchor="start" fill="#0c0c0c">APH</text>
<svg x="290.5" y="351.1" width="39.8" height="38.6" overflow="hidden">
<rect width="39.8" height="38.6" fill="#13120f"/>
<ellipse cx="10.300000000000011" cy="14.299999999999955" rx="6.2" ry="6.4" fill="#3850c4" filter="url(#blur05)"/>
<ellipse cx="10.00000000000001" cy="14.599999999999955" rx="3.4100000000000006" ry="3.5200000000000005" fill="#4a6ad0" opacity="0.4" filter="url(#blur1)"/>
<ellipse cx="28.100000000000023" cy="15.599999999999966" rx="4.6" ry="3.9" fill="#3850c4" filter="url(#blur05)"/>
<ellipse cx="27.800000000000022" cy="15.899999999999967" rx="2.53" ry="2.145" fill="#4a6ad0" opacity="0.4" filter="url(#blur1)"/>
<ellipse cx="23.30000000000001" cy="25.0" rx="5" ry="5.8" fill="#3850c4" filter="url(#blur05)"/>
<ellipse cx="23.00000000000001" cy="25.3" rx="2.75" ry="3.19" fill="#4a6ad0" opacity="0.4" filter="url(#blur1)"/>
<circle cx="6.0" cy="18.899999999999977" r="0.7" fill="#3c3" opacity="0.7" filter="url(#blur05)"/>
<circle cx="15.5" cy="19.399999999999977" r="0.7" fill="#3c3" opacity="0.7" filter="url(#blur05)"/>
<circle cx="31.5" cy="18.899999999999977" r="0.7" fill="#3c3" opacity="0.7" filter="url(#blur05)"/>
<circle cx="28.5" cy="24.899999999999977" r="0.7" fill="#3c3" opacity="0.7" filter="url(#blur05)"/>
<circle cx="19.0" cy="26.899999999999977" r="0.7" fill="#3c3" opacity="0.7" filter="url(#blur05)"/>
<rect x="34.3" y="36.6" width="4" height="0.6" fill="#888"/>
</svg>
<path d="M291.0,389.70000000000005 L291.0,351.6 L330.3,351.6" fill="none" stroke="#000" stroke-width="1"/>
<svg x="333.9" y="351.1" width="40.7" height="38.6" overflow="hidden">
<rect width="40.7" height="38.6" fill="#13120f"/>
<ellipse cx="2.1000000000000227" cy="10.299999999999955" rx="4.5" ry="5.5" fill="#3850c4" filter="url(#blur05)"/>
<ellipse cx="1.8000000000000227" cy="10.599999999999955" rx="2.475" ry="3.0250000000000004" fill="#4a6ad0" opacity="0.4" filter="url(#blur1)"/>
<ellipse cx="17.200000000000045" cy="19.299999999999955" rx="5.2" ry="4.8" fill="#3850c4" filter="url(#blur05)"/>
<ellipse cx="16.900000000000045" cy="19.599999999999955" rx="2.8600000000000003" ry="2.64" fill="#4a6ad0" opacity="0.4" filter="url(#blur1)"/>
<ellipse cx="29.80000000000001" cy="11.5" rx="4.8" ry="4.6" fill="#3850c4" filter="url(#blur05)"/>
<ellipse cx="29.50000000000001" cy="11.8" rx="2.64" ry="2.53" fill="#4a6ad0" opacity="0.4" filter="url(#blur1)"/>
<ellipse cx="12.700000000000045" cy="31.099999999999966" rx="4.6" ry="4.3" fill="#3850c4" filter="url(#blur05)"/>
<ellipse cx="12.400000000000045" cy="31.399999999999967" rx="2.53" ry="2.365" fill="#4a6ad0" opacity="0.4" filter="url(#blur1)"/>
<ellipse cx="1.1000000000000227" cy="24.69999999999999" rx="3.5" ry="5" fill="#3850c4" filter="url(#blur05)"/>
<ellipse cx="0.8000000000000227" cy="24.99999999999999" rx="1.9250000000000003" ry="2.75" fill="#4a6ad0" opacity="0.4" filter="url(#blur1)"/>
<ellipse cx="36.60000000000002" cy="38.39999999999998" rx="4.5" ry="3" fill="#3850c4" filter="url(#blur05)"/>
<ellipse cx="36.300000000000026" cy="38.699999999999974" rx="2.475" ry="1.6500000000000001" fill="#4a6ad0" opacity="0.4" filter="url(#blur1)"/>
<rect x="35.2" y="36.6" width="4" height="0.6" fill="#888"/>
</svg>
<path d="M334.4,389.70000000000005 L334.4,351.6 L374.59999999999997,351.6" fill="none" stroke="#000" stroke-width="1"/>
<svg x="290.5" y="392.6" width="39.8" height="38.7" overflow="hidden">
<rect width="39.8" height="38.7" fill="#13120f"/>
<ellipse cx="7.300000000000011" cy="9.799999999999955" rx="5.6" ry="5.4" fill="#3850c4" filter="url(#blur05)"/>
<ellipse cx="7.0000000000000115" cy="10.099999999999955" rx="3.08" ry="2.9700000000000006" fill="#4a6ad0" opacity="0.4" filter="url(#blur1)"/>
<ellipse cx="30.69999999999999" cy="15.799999999999955" rx="6" ry="5.8" fill="#3850c4" filter="url(#blur05)"/>
<ellipse cx="30.399999999999988" cy="16.099999999999955" rx="3.3000000000000003" ry="3.19" fill="#4a6ad0" opacity="0.4" filter="url(#blur1)"/>
<ellipse cx="28.899999999999977" cy="29.299999999999955" rx="5.5" ry="4.6" fill="#3850c4" filter="url(#blur05)"/>
<ellipse cx="28.599999999999977" cy="29.599999999999955" rx="3.0250000000000004" ry="2.53" fill="#4a6ad0" opacity="0.4" filter="url(#blur1)"/>
<circle cx="4.5" cy="5.399999999999977" r="0.7" fill="#3c3" opacity="0.7" filter="url(#blur05)"/>
<circle cx="12.5" cy="6.399999999999977" r="0.7" fill="#3c3" opacity="0.7" filter="url(#blur05)"/>
<circle cx="27.5" cy="31.399999999999977" r="0.7" fill="#3c3" opacity="0.7" filter="url(#blur05)"/>
<rect x="34.3" y="36.7" width="4" height="0.6" fill="#888"/>
</svg>
<path d="M291.0,431.3 L291.0,393.1 L330.3,393.1" fill="none" stroke="#000" stroke-width="1"/>
<svg x="333.9" y="392.6" width="40.7" height="38.7" overflow="hidden">
<rect width="40.7" height="38.7" fill="#13120f"/>
<ellipse cx="29.5" cy="14.0" rx="5" ry="6.5" fill="#3850c4" filter="url(#blur05)"/>
<ellipse cx="29.2" cy="14.3" rx="2.75" ry="3.575" fill="#4a6ad0" opacity="0.4" filter="url(#blur1)"/>
<ellipse cx="12.700000000000045" cy="22.399999999999977" rx="6" ry="5.5" fill="#3850c4" filter="url(#blur05)"/>
<ellipse cx="12.400000000000045" cy="22.699999999999978" rx="3.3000000000000003" ry="3.0250000000000004" fill="#4a6ad0" opacity="0.4" filter="url(#blur1)"/>
<rect x="35.2" y="36.7" width="4" height="0.6" fill="#888"/>
</svg>
<path d="M334.4,431.3 L334.4,393.1 L374.59999999999997,393.1" fill="none" stroke="#000" stroke-width="1"/>
<text x="389.7" y="343.7" font-size="10.8" text-anchor="start" fill="#000" font-weight="bold">E</text>
<rect x="399.7" y="355.9" width="89.5" height="72.5" fill="none" stroke="#222" stroke-width="1"/>
<text x="414.2" y="391.3" font-size="7.0" text-anchor="start" fill="#0c0c0c" textLength="14.4" lengthAdjust="spacingAndGlyphs" transform="rotate(-90 414.2 391.3)">SKM1</text>
<text x="427.6" y="391.3" font-size="7.0" text-anchor="start" fill="#0c0c0c" textLength="29.8" lengthAdjust="spacingAndGlyphs" transform="rotate(-90 427.6 391.3)">SKM1 <tspan font-size="5.6">rho0</tspan></text>
<text x="440.8" y="391.3" font-size="7.0" text-anchor="start" fill="#0c0c0c" textLength="14.3" lengthAdjust="spacingAndGlyphs" transform="rotate(-90 440.8 391.3)">U937</text>
<text x="453.7" y="391.3" font-size="7.0" text-anchor="start" fill="#0c0c0c" textLength="28.3" lengthAdjust="spacingAndGlyphs" transform="rotate(-90 453.7 391.3)">U937 <tspan font-size="5.6">rho0</tspan></text>
<rect x="403.7" y="393.8" width="55.7" height="12.4" fill="#f3f3f3"/>
<rect x="405.6" y="398.0" width="12.099999999999966" height="3.2" rx="0.9" fill="#0a0a0a" filter="url(#blur05)"/>
<rect x="433.1" y="398.0" width="12.299999999999955" height="3.2" rx="0.9" fill="#0a0a0a" filter="url(#blur05)"/>
<rect x="403.7" y="410.6" width="55.7" height="12.5" fill="#eeeeee"/>
<rect x="405" y="416.5" width="12.100000000000023" height="2.2" rx="0.9" fill="#151515" filter="url(#blur05)"/>
<rect x="418.5" y="416.2" width="11.100000000000023" height="2.2" rx="0.9" fill="#151515" filter="url(#blur05)"/>
<rect x="431.5" y="415.4" width="13.100000000000023" height="3.6" rx="0.9" fill="#050505" filter="url(#blur05)"/>
<rect x="445.4" y="415.9" width="12.100000000000023" height="2.6" rx="0.9" fill="#111" filter="url(#blur05)"/>
<text x="464.2" y="403.8" font-size="6.0" text-anchor="start" fill="#0c0c0c" textLength="19.3" lengthAdjust="spacingAndGlyphs">mtDNA</text>
<text x="463.8" y="416.3" font-size="6.0" text-anchor="start" fill="#0c0c0c" textLength="22.5" lengthAdjust="spacingAndGlyphs">nucDNA</text>
<text x="6.7" y="479.4" font-size="10.8" text-anchor="start" fill="#000" font-weight="bold">F</text>
<line x1="33.7" y1="496.5" x2="33.7" y2="571.3" stroke="#111" stroke-width="1.1"/>
<line x1="33.2" y1="571.3" x2="126.8" y2="571.3" stroke="#111" stroke-width="1.1"/>
<line x1="30.700000000000003" y1="571.2" x2="33.7" y2="571.2" stroke="#111" stroke-width="1"/>
<text x="27.3" y="573.36" font-size="6.0" text-anchor="end" fill="#0c0c0c">0.0</text>
<line x1="30.700000000000003" y1="553.1500000000001" x2="33.7" y2="553.1500000000001" stroke="#111" stroke-width="1"/>
<text x="27.3" y="555.3100000000001" font-size="6.0" text-anchor="end" fill="#0c0c0c">0.5</text>
<line x1="30.700000000000003" y1="535.1" x2="33.7" y2="535.1" stroke="#111" stroke-width="1"/>
<text x="27.3" y="537.26" font-size="6.0" text-anchor="end" fill="#0c0c0c">1.0</text>
<line x1="30.700000000000003" y1="517.0500000000001" x2="33.7" y2="517.0500000000001" stroke="#111" stroke-width="1"/>
<text x="27.3" y="519.21" font-size="6.0" text-anchor="end" fill="#0c0c0c">1.5</text>
<line x1="30.700000000000003" y1="499.00000000000006" x2="33.7" y2="499.00000000000006" stroke="#111" stroke-width="1"/>
<text x="27.3" y="501.1600000000001" font-size="6.0" text-anchor="end" fill="#0c0c0c">2.0</text>
<rect x="42.6" y="535.1" width="17.199999999999996" height="36.19999999999993" fill="#2E4A7E"/>
<line x1="51.2" y1="571.3" x2="51.2" y2="574.3" stroke="#111" stroke-width="1"/>
<rect x="69.3" y="508.74700000000007" width="17.5" height="62.552999999999884" fill="#A5002A"/>
<line x1="78.05" y1="507.30300000000005" x2="78.05" y2="509.83000000000004" stroke="#111" stroke-width="1.1"/>
<line x1="73.75" y1="507.30300000000005" x2="82.35" y2="507.30300000000005" stroke="#111" stroke-width="1.1"/>
<line x1="73.75" y1="509.83000000000004" x2="82.35" y2="509.83000000000004" stroke="#111" stroke-width="1.1"/>
<line x1="78.05" y1="571.3" x2="78.05" y2="574.3" stroke="#111" stroke-width="1"/>
<rect x="95.7" y="527.158" width="17.799999999999997" height="44.14199999999994" fill="#6AAA3F"/>
<line x1="104.6" y1="524.27" x2="104.6" y2="528.9630000000001" stroke="#111" stroke-width="1.1"/>
<line x1="100.3" y1="524.27" x2="108.89999999999999" y2="524.27" stroke="#111" stroke-width="1.1"/>
<line x1="100.3" y1="528.9630000000001" x2="108.89999999999999" y2="528.9630000000001" stroke="#111" stroke-width="1.1"/>
<line x1="104.6" y1="571.3" x2="104.6" y2="574.3" stroke="#111" stroke-width="1"/>
<text x="51.2" y="583.1" font-size="6.4" text-anchor="middle" fill="#0c0c0c" textLength="11.5" lengthAdjust="spacingAndGlyphs">Untx</text>
<text x="78.05" y="583.1" font-size="6.4" text-anchor="middle" fill="#0c0c0c" textLength="11.8" lengthAdjust="spacingAndGlyphs">LAN</text>
<text x="104.6" y="583.1" font-size="6.4" text-anchor="middle" fill="#0c0c0c" textLength="23" lengthAdjust="spacingAndGlyphs">S100A9</text>
<text x="14.0" y="533" font-size="8.0" text-anchor="middle" fill="#0c0c0c" font-weight="bold" textLength="72" lengthAdjust="spacingAndGlyphs" transform="rotate(-90 14.0 533)">Ox-DNA fold change (SKM1)</text>
<text x="80" y="479.8" font-size="7.8" text-anchor="middle" fill="#0c0c0c" textLength="53" lengthAdjust="spacingAndGlyphs">SKM1 parental</text>
<text x="42.3" y="490.9" font-size="5.9" font-style="italic" fill="#0c0c0c">P</text>
<text x="47.81" y="491.00" font-size="7.08" fill="#0c0c0c" textLength="4.03" lengthAdjust="spacingAndGlyphs">=</text>
<text x="53.71" y="490.9" font-size="5.9" fill="#0c0c0c" textLength="18.59" lengthAdjust="spacingAndGlyphs">9.0x10</text>
<text x="72.8" y="488.59999999999997" font-size="3.5" fill="#0c0c0c">&#8722;7</text>
<text x="80.3" y="490.9" font-size="5.9" font-style="italic" fill="#0c0c0c">P</text>
<text x="85.81" y="491.00" font-size="7.08" fill="#0c0c0c" textLength="4.03" lengthAdjust="spacingAndGlyphs">=</text>
<text x="91.71" y="490.9" font-size="5.9" fill="#0c0c0c" textLength="18.29" lengthAdjust="spacingAndGlyphs">2.9x10</text>
<text x="110.5" y="488.59999999999997" font-size="3.5" fill="#0c0c0c">&#8722;5</text>
<path d="M46.2,506.5 L46.2,501.1 Q46.2,499.6 47.7,499.6 L65.5,499.6 Q67,499.6 67,498.1 L67,493.6 M67,498.1 Q67,499.6 68.5,499.6 L75.9,499.6 Q77.4,499.6 77.4,501.1 L77.4,505.7" fill="none" stroke="#222" stroke-width="0.9"/>
<path d="M77.4,506 L77.4,501.8 Q77.4,500.3 78.9,500.3 L93.7,500.3 Q95.2,500.3 95.2,498.8 L95.2,493.6 M95.2,498.8 Q95.2,500.3 96.7,500.3 L104.5,500.3 Q106,500.3 106,501.8 L106,506.9" fill="none" stroke="#888" stroke-width="0.9"/>
<line x1="162.4" y1="496.5" x2="162.4" y2="571.5" stroke="#111" stroke-width="1.1"/>
<line x1="161.9" y1="571.5" x2="256" y2="571.5" stroke="#111" stroke-width="1.1"/>
<line x1="159.4" y1="571.5" x2="162.4" y2="571.5" stroke="#111" stroke-width="1"/>
<text x="155.7" y="573.66" font-size="6.0" text-anchor="end" fill="#0c0c0c">0.0</text>
<line x1="159.4" y1="553.35" x2="162.4" y2="553.35" stroke="#111" stroke-width="1"/>
<text x="155.7" y="555.51" font-size="6.0" text-anchor="end" fill="#0c0c0c">0.5</text>
<line x1="159.4" y1="535.2" x2="162.4" y2="535.2" stroke="#111" stroke-width="1"/>
<text x="155.7" y="537.36" font-size="6.0" text-anchor="end" fill="#0c0c0c">1.0</text>
<line x1="159.4" y1="517.05" x2="162.4" y2="517.05" stroke="#111" stroke-width="1"/>
<text x="155.7" y="519.2099999999999" font-size="6.0" text-anchor="end" fill="#0c0c0c">1.5</text>
<line x1="159.4" y1="498.9" x2="162.4" y2="498.9" stroke="#111" stroke-width="1"/>
<text x="155.7" y="501.06" font-size="6.0" text-anchor="end" fill="#0c0c0c">2.0</text>
<rect x="171.75" y="535.2" width="17.0" height="36.299999999999955" fill="#2E4A7E"/>
<line x1="180.25" y1="571.5" x2="180.25" y2="574.5" stroke="#111" stroke-width="1"/>
<rect x="198.25" y="540.282" width="17.5" height="31.21799999999996" fill="#A5002A"/>
<line x1="207.0" y1="529.029" x2="207.0" y2="551.172" stroke="#111" stroke-width="1.1"/>
<line x1="202.7" y1="529.029" x2="211.3" y2="529.029" stroke="#111" stroke-width="1.1"/>
<line x1="202.7" y1="551.172" x2="211.3" y2="551.172" stroke="#111" stroke-width="1.1"/>
<line x1="207.0" y1="571.5" x2="207.0" y2="574.5" stroke="#111" stroke-width="1"/>
<rect x="225" y="536.289" width="17.5" height="35.21100000000001" fill="#6AAA3F"/>
<line x1="233.75" y1="534.111" x2="233.75" y2="537.378" stroke="#111" stroke-width="1.1"/>
<line x1="229.45" y1="534.111" x2="238.05" y2="534.111" stroke="#111" stroke-width="1.1"/>
<line x1="229.45" y1="537.378" x2="238.05" y2="537.378" stroke="#111" stroke-width="1.1"/>
<line x1="233.75" y1="571.5" x2="233.75" y2="574.5" stroke="#111" stroke-width="1"/>
<text x="180.25" y="583.1" font-size="6.4" text-anchor="middle" fill="#0c0c0c" textLength="11.5" lengthAdjust="spacingAndGlyphs">Untx</text>
<text x="207.0" y="583.1" font-size="6.4" text-anchor="middle" fill="#0c0c0c" textLength="11.8" lengthAdjust="spacingAndGlyphs">LAN</text>
<text x="233.75" y="583.1" font-size="6.4" text-anchor="middle" fill="#0c0c0c" textLength="23" lengthAdjust="spacingAndGlyphs">S100A9</text>
<text x="142.5" y="534.3" font-size="8.0" text-anchor="middle" fill="#0c0c0c" font-weight="bold" textLength="84" lengthAdjust="spacingAndGlyphs" transform="rotate(-90 142.5 534.3)">Ox-DNA fold change (SKM1 rho0)</text>
<text x="208.7" y="479.8" font-size="7.8" text-anchor="middle" fill="#0c0c0c" textLength="40.7" lengthAdjust="spacingAndGlyphs">SKM1 rho0</text>
<text x="177.4" y="494.9" font-size="5.9" font-style="italic" fill="#0c0c0c">P</text>
<text x="182.91" y="495.00" font-size="7.08" fill="#0c0c0c" textLength="4.03" lengthAdjust="spacingAndGlyphs">=</text>
<text x="188.81" y="494.9" font-size="5.9" fill="#0c0c0c" textLength="16.29" lengthAdjust="spacingAndGlyphs">0.488</text>
<text x="210.3" y="494.9" font-size="5.9" font-style="italic" fill="#0c0c0c">P</text>
<text x="215.81" y="495.00" font-size="7.08" fill="#0c0c0c" textLength="4.03" lengthAdjust="spacingAndGlyphs">=</text>
<text x="221.71" y="494.9" font-size="5.9" fill="#0c0c0c" textLength="15.69" lengthAdjust="spacingAndGlyphs">0.518</text>
<path d="M175,510 L175,504.5 Q175,503 176.5,503 L193.0,503 Q194.5,503 194.5,501.5 L194.5,497 M194.5,501.5 Q194.5,503 196.0,503 L203.0,503 Q204.5,503 204.5,504.5 L204.5,510" fill="none" stroke="#222" stroke-width="0.9"/>
<path d="M204.5,510 L204.5,504.5 Q204.5,503 206.0,503 L222.25,503 Q223.75,503 223.75,501.5 L223.75,497 M223.75,501.5 Q223.75,503 225.25,503 L233.0,503 Q234.5,503 234.5,504.5 L234.5,510" fill="none" stroke="#222" stroke-width="0.9"/>
<line x1="290.9" y1="496.3" x2="290.9" y2="571.6" stroke="#111" stroke-width="1.1"/>
<line x1="290.4" y1="571.6" x2="384.3" y2="571.6" stroke="#111" stroke-width="1.1"/>
<line x1="287.9" y1="571.6" x2="290.9" y2="571.6" stroke="#111" stroke-width="1"/>
<text x="285.4" y="573.76" font-size="6.0" text-anchor="end" fill="#0c0c0c">0.0</text>
<line x1="287.9" y1="557.0" x2="290.9" y2="557.0" stroke="#111" stroke-width="1"/>
<text x="285.4" y="559.16" font-size="6.0" text-anchor="end" fill="#0c0c0c">0.5</text>
<line x1="287.9" y1="542.4" x2="290.9" y2="542.4" stroke="#111" stroke-width="1"/>
<text x="285.4" y="544.56" font-size="6.0" text-anchor="end" fill="#0c0c0c">1.0</text>
<line x1="287.9" y1="527.8000000000001" x2="290.9" y2="527.8000000000001" stroke="#111" stroke-width="1"/>
<text x="285.4" y="529.96" font-size="6.0" text-anchor="end" fill="#0c0c0c">1.5</text>
<line x1="287.9" y1="513.2" x2="290.9" y2="513.2" stroke="#111" stroke-width="1"/>
<text x="285.4" y="515.36" font-size="6.0" text-anchor="end" fill="#0c0c0c">2.0</text>
<line x1="287.9" y1="498.6" x2="290.9" y2="498.6" stroke="#111" stroke-width="1"/>
<text x="285.4" y="500.76000000000005" font-size="6.0" text-anchor="end" fill="#0c0c0c">2.5</text>
<rect x="300.4" y="542.4" width="16.900000000000034" height="29.200000000000045" fill="#2E4A7E"/>
<line x1="308.85" y1="571.6" x2="308.85" y2="574.6" stroke="#111" stroke-width="1"/>
<rect x="327.2" y="521.96" width="17.0" height="49.639999999999986" fill="#A5002A"/>
<line x1="335.7" y1="513.784" x2="335.7" y2="530.136" stroke="#111" stroke-width="1.1"/>
<line x1="331.4" y1="513.784" x2="340.0" y2="513.784" stroke="#111" stroke-width="1.1"/>
<line x1="331.4" y1="530.136" x2="340.0" y2="530.136" stroke="#111" stroke-width="1.1"/>
<line x1="335.7" y1="571.6" x2="335.7" y2="574.6" stroke="#111" stroke-width="1"/>
<rect x="353.6" y="521.96" width="17.399999999999977" height="49.639999999999986" fill="#6AAA3F"/>
<line x1="362.3" y1="518.164" x2="362.3" y2="525.172" stroke="#111" stroke-width="1.1"/>
<line x1="358.0" y1="518.164" x2="366.6" y2="518.164" stroke="#111" stroke-width="1.1"/>
<line x1="358.0" y1="525.172" x2="366.6" y2="525.172" stroke="#111" stroke-width="1.1"/>
<line x1="362.3" y1="571.6" x2="362.3" y2="574.6" stroke="#111" stroke-width="1"/>
<text x="308.85" y="583.1" font-size="6.4" text-anchor="middle" fill="#0c0c0c" textLength="11.5" lengthAdjust="spacingAndGlyphs">Untx</text>
<text x="335.7" y="583.1" font-size="6.4" text-anchor="middle" fill="#0c0c0c" textLength="11.8" lengthAdjust="spacingAndGlyphs">LAN</text>
<text x="362.3" y="583.1" font-size="6.4" text-anchor="middle" fill="#0c0c0c" textLength="23" lengthAdjust="spacingAndGlyphs">S100A9</text>
<text x="272.5" y="533.6" font-size="8.0" text-anchor="middle" fill="#0c0c0c" font-weight="bold" textLength="70" lengthAdjust="spacingAndGlyphs" transform="rotate(-90 272.5 533.6)">Ox-DNA fold change (U937)</text>
<text x="338" y="479.8" font-size="7.8" text-anchor="middle" fill="#0c0c0c" textLength="51.1" lengthAdjust="spacingAndGlyphs">U937 parental</text>
<text x="298.4" y="500.5" font-size="5.7" font-style="italic" fill="#0c0c0c">P</text>
<text x="303.72" y="500.60" font-size="6.84" fill="#0c0c0c" textLength="3.90" lengthAdjust="spacingAndGlyphs">=</text>
<text x="309.42" y="500.5" font-size="5.7" fill="#0c0c0c" textLength="18.68" lengthAdjust="spacingAndGlyphs">1.2x10</text>
<text x="328.6" y="498.2" font-size="3.5" fill="#0c0c0c">&#8722;3</text>
<text x="337.3" y="500.5" font-size="5.7" font-style="italic" fill="#0c0c0c">P</text>
<text x="342.62" y="500.60" font-size="6.84" fill="#0c0c0c" textLength="3.90" lengthAdjust="spacingAndGlyphs">=</text>
<text x="348.32" y="500.5" font-size="5.7" fill="#0c0c0c" textLength="17.48" lengthAdjust="spacingAndGlyphs">5.0x10</text>
<text x="366.3" y="498.2" font-size="3.5" fill="#0c0c0c">&#8722;4</text>
<path d="M304.8,517.6 L304.8,512.9 Q304.8,511.4 306.3,511.4 L323.5,511.4 Q325,511.4 325,509.9 L325,505.4 M325,509.9 Q325,511.4 326.5,511.4 L336.1,511.4 Q337.6,511.4 337.6,512.9 L337.6,514" fill="none" stroke="#222" stroke-width="0.9"/>
<path d="M337.6,514 L337.6,512.9 Q337.6,511.4 339.1,511.4 L352.1,511.4 Q353.6,511.4 353.6,509.9 L353.6,505.4 M353.6,509.9 Q353.6,511.4 355.1,511.4 L364.5,511.4 Q366,511.4 366,512.9 L366,518.4" fill="none" stroke="#222" stroke-width="0.9"/>
<line x1="419.5" y1="496.3" x2="419.5" y2="571.6" stroke="#111" stroke-width="1.1"/>
<line x1="419.0" y1="571.6" x2="513" y2="571.6" stroke="#111" stroke-width="1.1"/>
<line x1="416.5" y1="571.6" x2="419.5" y2="571.6" stroke="#111" stroke-width="1"/>
<text x="413.7" y="573.76" font-size="6.0" text-anchor="end" fill="#0c0c0c">0.0</text>
<line x1="416.5" y1="557.0" x2="419.5" y2="557.0" stroke="#111" stroke-width="1"/>
<text x="413.7" y="559.16" font-size="6.0" text-anchor="end" fill="#0c0c0c">0.5</text>
<line x1="416.5" y1="542.4" x2="419.5" y2="542.4" stroke="#111" stroke-width="1"/>
<text x="413.7" y="544.56" font-size="6.0" text-anchor="end" fill="#0c0c0c">1.0</text>
<line x1="416.5" y1="527.8000000000001" x2="419.5" y2="527.8000000000001" stroke="#111" stroke-width="1"/>
<text x="413.7" y="529.96" font-size="6.0" text-anchor="end" fill="#0c0c0c">1.5</text>
<line x1="416.5" y1="513.2" x2="419.5" y2="513.2" stroke="#111" stroke-width="1"/>
<text x="413.7" y="515.36" font-size="6.0" text-anchor="end" fill="#0c0c0c">2.0</text>
<line x1="416.5" y1="498.6" x2="419.5" y2="498.6" stroke="#111" stroke-width="1"/>
<text x="413.7" y="500.76000000000005" font-size="6.0" text-anchor="end" fill="#0c0c0c">2.5</text>
<rect x="429.3" y="542.692" width="17.0" height="28.908000000000015" fill="#2E4A7E"/>
<line x1="437.8" y1="571.6" x2="437.8" y2="574.6" stroke="#111" stroke-width="1"/>
<rect x="456" y="543.3928000000001" width="17.19999999999999" height="28.207199999999943" fill="#A5002A"/>
<line x1="464.6" y1="539.3048" x2="464.6" y2="546.6924" stroke="#111" stroke-width="1.1"/>
<line x1="460.3" y1="539.3048" x2="468.90000000000003" y2="539.3048" stroke="#111" stroke-width="1.1"/>
<line x1="460.3" y1="546.6924" x2="468.90000000000003" y2="546.6924" stroke="#111" stroke-width="1.1"/>
<line x1="464.6" y1="571.6" x2="464.6" y2="574.6" stroke="#111" stroke-width="1"/>
<rect x="483" y="545.4952000000001" width="16.80000000000001" height="26.104799999999955" fill="#6AAA3F"/>
<line x1="491.4" y1="541.816" x2="491.4" y2="548.24" stroke="#111" stroke-width="1.1"/>
<line x1="487.09999999999997" y1="541.816" x2="495.7" y2="541.816" stroke="#111" stroke-width="1.1"/>
<line x1="487.09999999999997" y1="548.24" x2="495.7" y2="548.24" stroke="#111" stroke-width="1.1"/>
<line x1="491.4" y1="571.6" x2="491.4" y2="574.6" stroke="#111" stroke-width="1"/>
<text x="437.8" y="583.1" font-size="6.4" text-anchor="middle" fill="#0c0c0c" textLength="11.5" lengthAdjust="spacingAndGlyphs">Untx</text>
<text x="464.6" y="583.1" font-size="6.4" text-anchor="middle" fill="#0c0c0c" textLength="11.8" lengthAdjust="spacingAndGlyphs">LAN</text>
<text x="491.4" y="583.1" font-size="6.4" text-anchor="middle" fill="#0c0c0c" textLength="23" lengthAdjust="spacingAndGlyphs">S100A9</text>
<text x="400.8" y="534.5" font-size="8.0" text-anchor="middle" fill="#0c0c0c" font-weight="bold" textLength="83.6" lengthAdjust="spacingAndGlyphs" transform="rotate(-90 400.8 534.5)">Ox-DNA fold change (U937 rho0)</text>
<text x="466.7" y="479.8" font-size="7.8" text-anchor="middle" fill="#0c0c0c" textLength="37.8" lengthAdjust="spacingAndGlyphs">U937 rho0</text>
<text x="437.4" y="497.5" font-size="5.7" font-style="italic" fill="#0c0c0c">P</text>
<text x="442.72" y="497.60" font-size="6.84" fill="#0c0c0c" textLength="3.90" lengthAdjust="spacingAndGlyphs">=</text>
<text x="448.42" y="497.5" font-size="5.7" fill="#0c0c0c" textLength="15.08" lengthAdjust="spacingAndGlyphs">0.782</text>
<text x="469.2" y="497.5" font-size="5.7" font-style="italic" fill="#0c0c0c">P</text>
<text x="474.52" y="497.60" font-size="6.84" fill="#0c0c0c" textLength="3.90" lengthAdjust="spacingAndGlyphs">=</text>
<text x="480.22" y="497.5" font-size="5.7" fill="#0c0c0c" textLength="15.98" lengthAdjust="spacingAndGlyphs">0.220</text>
<path d="M432.2,514.5 L432.2,508.2 Q432.2,506.7 433.7,506.7 L451.5,506.7 Q453,506.7 453,505.2 L453,501.5 M453,505.2 Q453,506.7 454.5,506.7 L460.9,506.7 Q462.4,506.7 462.4,508.2 L462.4,514.5" fill="none" stroke="#222" stroke-width="0.9"/>
<path d="M462.4,514.5 L462.4,508.2 Q462.4,506.7 463.9,506.7 L479.5,506.7 Q481,506.7 481,505.2 L481,501.5 M481,505.2 Q481,506.7 482.5,506.7 L490.5,506.7 Q492,506.7 492,508.2 L492,514.5" fill="none" stroke="#222" stroke-width="0.9"/><rect x="0.5" y="0.5" width="519" height="590" fill="none" stroke="#000" stroke-width="1"/>
</svg></body></html>
